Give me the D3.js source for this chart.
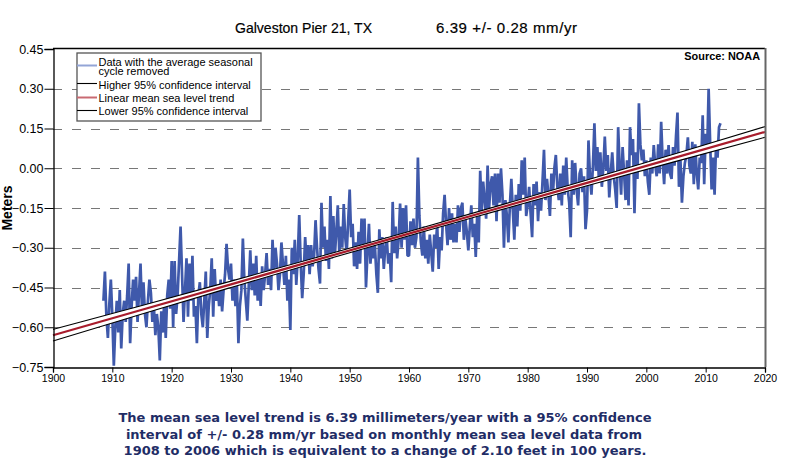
<!DOCTYPE html>
<html><head><meta charset="utf-8">
<script src="https://cdnjs.cloudflare.com/ajax/libs/d3/7.8.5/d3.min.js"></script>
<style>
html,body{margin:0;padding:0;background:#fff;}
svg{display:block;}
text{font-family:"Liberation Sans",Arial,sans-serif;fill:#000;}
</style></head><body>
<svg id="c" width="805" height="476"></svg>
<script>
const xTicks=[1900,1910,1920,1930,1940,1950,1960,1970,1980,1990,2000,2010,2020];
const yTicks=[0.45,0.30,0.15,0.00,-0.15,-0.30,-0.45,-0.60,-0.75];
const firstYear=1908.5, stepYears=0.25;
const trendYears=[1900,1915,1930,1945,1960,1975,1990,2005,2020];
const trendLevels=[-0.63,-0.534,-0.438,-0.342,-0.2465,-0.151,-0.055,0.041,0.137];
const upperLevels=[-0.608,-0.518,-0.426,-0.333,-0.2385,-0.142,-0.044,0.056,0.157];
const lowerLevels=[-0.652,-0.550,-0.450,-0.351,-0.2545,-0.160,-0.066,0.026,0.117];
const levels1900s=[-.50,-.39,-.56,-.64,-.51,-.42];
const levels1910s=[-.56,-.745,-.60,-.50,-.62,-.46,-.68,-.55,-.50,-.58,-.48,-.36,-.66,-.52,-.42,-.50,-.41,-.58,-.47,-.36,-.54,-.43,-.55,-.60,-.50,-.42,-.47,-.58,-.52,-.63,-.55,-.60,-.725,-.54,-.62,-.50,-.64,-.48,-.42,-.53];
const levels1920s=[-.35,-.60,-.35,-.55,-.48,-.35,-.22,-.40,-.58,-.46,-.34,-.56,-.36,-.50,-.33,-.56,-.52,-.66,-.48,-.43,-.55,-.60,-.50,-.39,-.64,-.52,-.46,-.34,-.56,-.38,-.50,-.44,-.52,-.42,-.54,-.46,-.40,-.285,-.38,-.42];
const levels1930s=[-.36,-.50,-.42,-.52,-.44,-.66,-.52,-.46,-.265,-.42,-.50,-.575,-.44,-.31,-.46,-.36,-.48,-.33,-.50,-.40,-.52,-.37,-.46,-.40,-.32,-.44,-.38,-.46,-.27,-.40,-.30,-.36,-.46,-.40,-.28,-.36,-.44,-.33,-.50,-.42];
const levels1940s=[-.61,-.30,-.40,-.27,-.44,-.34,-.177,-.36,-.49,-.40,-.26,-.36,-.29,-.40,-.29,-.37,-.33,-.196,-.30,-.38,-.435,-.13,-.30,-.22,-.35,-.27,-.38,-.105,-.34,-.18,-.33,-.24,-.14,-.32,-.22,-.30,-.135,-.26,-.32,-.20];
const levels1950s=[-.08,-.26,-.21,-.37,-.28,-.38,-.24,-.36,-.19,-.30,-.19,-.45,-.32,-.21,-.36,-.28,-.34,-.29,-.40,-.47,-.23,-.34,-.26,-.38,-.30,-.26,-.36,-.32,-.43,-.127,-.32,-.22,-.34,-.27,-.133,-.30,-.15,-.27,-.14,-.33];
const levels1960s=[-.33,-.20,-.29,-.19,-.30,-.26,.04,-.18,-.28,-.33,-.22,-.34,-.27,-.36,-.25,-.32,-.39,-.25,-.30,-.21,-.38,-.26,-.31,-.17,-.10,-.21,-.29,-.15,-.27,-.17,-.28,-.21,-.28,-.14,-.24,-.15,-.13,-.27,-.19,-.24];
const levels1970s=[-.31,-.22,-.14,-.26,-.21,-.335,-.17,-.28,-.01,-.16,-.05,-.12,-.19,.01,-.15,-.06,-.03,-.14,-.02,-.20,-.02,-.13,-.00,-.10,-.30,-.12,-.18,-.28,-.14,-.04,-.16,-.27,-.10,-.22,-.06,-.16,.03,-.10,.04,-.18];
const levels1980s=[-.14,-.07,-.17,-.26,-.06,-.14,-.05,-.20,-.09,-.16,-.05,.07,-.12,-.04,-.10,-.18,-.02,-.10,.00,.05,-.07,-.12,-.02,-.14,.01,-.10,.04,-.08,-.13,-.26,.03,-.10,.02,-.08,-.14,-.02,.00,-.09,-.03,-.23];
const levels1990s=[-.16,.105,-.03,-.10,.01,.17,-.01,.08,-.04,.06,-.07,.00,.12,-.01,.05,-.11,-.02,.06,-.03,-.08,-.15,.155,.01,-.10,.08,-.02,-.12,.03,-.14,.155,.05,.11,-.17,.06,-.04,.245,.09,.03,.07,-.03];
const levels2000s=[.03,-.05,-.10,.04,-.02,.087,.01,-.03,.09,-.02,.175,.03,-.06,.07,-.02,.087,-.02,-.04,.08,.01,.12,.21,-.07,.03,-.13,-.03,.02,.05,.117,.01,-.02,.10,-.06,.09,-.02,-.08,.04,.02,.2,-.06];
const levels2010s=[.13,.06,.30,.10,-.08,.04,-.10,.09,.04,.155,.17];
const legendLabels=[["Data with the average seasonal","cycle removed"],["Higher 95% confidence interval"],["Linear mean sea level trend"],["Lower 95% confidence interval"]];
const noteLines=["The mean sea level trend is 6.39 millimeters/year with a 95% confidence","interval of +/- 0.28 mm/yr based on monthly mean sea level data from","1908 to 2006 which is equivalent to a change of 2.10 feet in 100 years."];

const levels=[].concat(levels1900s,levels1910s,levels1920s,levels1930s,levels1940s,levels1950s,levels1960s,levels1970s,levels1980s,levels1990s,levels2000s,levels2010s);
const series=levels.map((v,i)=>[firstYear+i*stepYears,v]);

const L=53,R=765,T=49,B=367;
const svg=d3.select("#c");
const x=d3.scaleLinear().domain([1900,2020]).range([L,R]);
const y=d3.scaleLinear().domain([-0.75,0.45]).range([B,T]);

svg.append("g").selectAll("line").data(yTicks.slice(1,-1)).join("line")
 .attr("x1",L).attr("x2",R).attr("y1",d=>Math.round(y(d))+.5).attr("y2",d=>Math.round(y(d))+.5)
 .attr("stroke","#777").attr("stroke-width",1.1).attr("stroke-dasharray","9 10");

const line=d3.line().x(d=>x(d[0])).y(d=>y(d[1]));
svg.append("path").datum(series).attr("d",line).attr("fill","none")
 .attr("stroke","#3f59ab").attr("stroke-width",2.7).attr("stroke-linejoin","bevel");

const band=d3.area().x(d=>x(d[0])).y0(d=>y(d[1])).y1(d=>y(d[2]));
svg.append("path").datum(trendYears.map((t,i)=>[t,lowerLevels[i],upperLevels[i]])).attr("d",band).attr("fill","#fff");
const seg=vals=>trendYears.map((t,i)=>[t,vals[i]]);
const curve=d3.line().curve(d3.curveMonotoneX).x(d=>x(d[0])).y(d=>y(d[1]));
svg.append("path").datum(seg(upperLevels)).attr("d",curve).attr("stroke","#000").attr("stroke-width",1.1).attr("fill","none");
svg.append("path").datum(seg(lowerLevels)).attr("d",curve).attr("stroke","#000").attr("stroke-width",1.1).attr("fill","none");
svg.append("path").datum(seg(trendLevels)).attr("d",line).attr("stroke","#a81c2c").attr("stroke-width",2.2).attr("fill","none");

svg.append("line").attr("x1",L).attr("x2",R).attr("y1",T-.5).attr("y2",T-.5).attr("stroke","#000").attr("stroke-width",1.5);
svg.append("line").attr("x1",R+.5).attr("x2",R+.5).attr("y1",T-1).attr("y2",B).attr("stroke","#666").attr("stroke-width",2);

const ax=svg.append("g").attr("transform",`translate(0,${B+.5})`)
 .call(d3.axisBottom(x).tickValues(xTicks).tickFormat(d3.format("d")).tickSize(5).tickPadding(2));
ax.selectAll("text").attr("font-size",10.5).attr("fill","#000");
ax.select(".domain").attr("stroke","#000").attr("stroke-width",1.3);
ax.selectAll("line").attr("stroke","#000");
const ay=svg.append("g").attr("transform",`translate(${L+.5},0)`)
 .call(d3.axisLeft(y).tickValues(yTicks).tickFormat(d3.format(".2f")).tickSize(9).tickPadding(1));
ay.selectAll("text").attr("font-size",12.5).attr("fill","#000");
ay.select(".domain").attr("stroke","#000").attr("stroke-width",1.3);
ay.selectAll("line").attr("stroke","#000");

svg.append("text").attr("x",235).attr("y",33).attr("font-size",15).attr("stroke","#000").attr("stroke-width",.2).attr("textLength",137).attr("lengthAdjust","spacingAndGlyphs").text("Galveston Pier 21, TX");
svg.append("text").attr("x",436).attr("y",33).attr("font-size",15).attr("stroke","#000").attr("stroke-width",.2).attr("textLength",141).attr("lengthAdjust","spacing").text("6.39 +/- 0.28 mm/yr");
svg.append("text").attr("x",760).attr("y",60).attr("text-anchor","end").attr("font-size",10.9).attr("font-weight","bold").text("Source: NOAA");
svg.append("text").attr("transform","translate(12,208) rotate(-90)").attr("text-anchor","middle").attr("font-size",14).attr("font-weight","bold").text("Meters");

const lg=svg.append("g");
lg.append("rect").attr("x",77).attr("y",53).attr("width",184).attr("height",68).attr("fill","#fff").attr("stroke","#555").attr("stroke-width",1.3);
const legendRows=[65,83,97,110];
const legendColors=["#93a5d6","#000","#c96a72","#000"];
const legendWidths=[2,1.1,2,1.1];
const legendText=[[65.5,75],[89],[101.5],[115]];
legendLabels.forEach((ls,i)=>{
  lg.append("line").attr("x1",77).attr("x2",97).attr("y1",legendRows[i]+.5).attr("y2",legendRows[i]+.5).attr("stroke",legendColors[i]).attr("stroke-width",legendWidths[i]);
  ls.forEach((t,j)=>lg.append("text").attr("x",98.5).attr("y",legendText[i][j]).attr("font-size",11).text(t));
});

svg.append("g").selectAll("text").data(noteLines).join("text")
 .attr("x",(d,i)=>[385,384,385][i]).attr("y",(d,i)=>[422,439,455][i]).attr("text-anchor","middle")
 .style("font-family","'DejaVu Sans'").attr("font-weight","bold").attr("font-size",13)
 .style("fill","#1f2d66").text(d=>d);
</script>
</body></html>
